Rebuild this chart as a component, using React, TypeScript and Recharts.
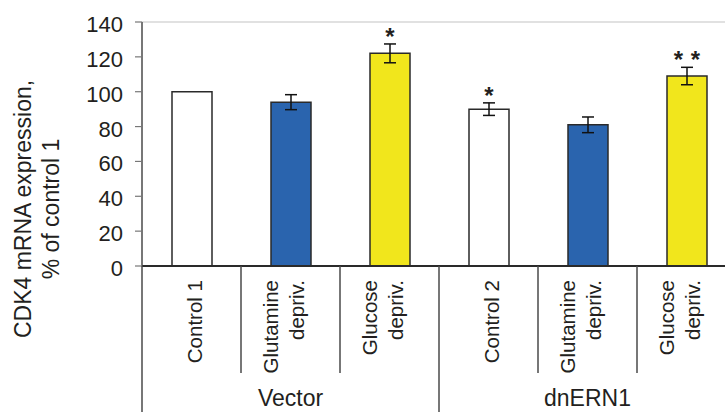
import { BarChart, Bar, XAxis, YAxis, Cell, ErrorBar, LabelList, ReferenceLine } from 'recharts'

const CATEGORIES = ['Control 1', 'Glutamine\ndepriv.', 'Glucose\ndepriv.', 'Control 2', 'Glutamine\ndepriv.', 'Glucose\ndepriv.']
const GROUPS = ['Vector', 'dnERN1']
const VALUES = [100, 94, 122, 90, 81, 109]
const ERRORS = [0, 4.3, 5.4, 3.6, 4.5, 5]
const MARKS = ['', '', '*', '*', '', '**']
const Y_TICKS = [0, 20, 40, 60, 80, 100, 120, 140]

const FILLS = ['#ffffff', '#2a64ae', '#f1e61c', '#ffffff', '#2a64ae', '#f1e61c']

const FONT = '"Liberation Sans", Arial, sans-serif'
const TEXT = '#231f20'
const LINE = '#4a4a4a'

const W = 725
const H = 412
const LEFT = 142
const TOP = 22
const X_AXIS_H = 146
const RIGHT = -11
const BAND = (W - LEFT - RIGHT) / CATEGORIES.length

const data = CATEGORIES.map((name, i) => ({
  name,
  idx: i,
  value: VALUES[i],
  err: ERRORS[i],
  sig: MARKS[i],
}))

function YTick({ x, y, payload }: any) {
  return (
    <text x={x} y={y + 10} textAnchor="end" fontSize={22} fontFamily={FONT} fill={TEXT}>
      {payload.value}
    </text>
  )
}

function XTick({ x, y, payload, index }: any) {
  const i = index ?? payload.index
  const lines = String(CATEGORIES[i]).split('\n')
  const left = x - BAND / 2
  const groupStart = i % 3 === 0
  const offsets = lines.length === 1 ? [10] : [-13, 13]
  return (
    <g>
      <line x1={left} y1={y} x2={left} y2={groupStart ? H : 373} stroke={LINE} strokeWidth={1.5} />
      {i === CATEGORIES.length - 1 && (
        <line x1={x + BAND / 2} y1={y} x2={x + BAND / 2} y2={H} stroke={LINE} strokeWidth={1.5} />
      )}
      {lines.map((l, k) => {
        const bx = x + offsets[k]
        const by = y + 14
        return (
          <text
            key={k}
            x={bx}
            y={by}
            transform={`rotate(-90, ${bx}, ${by})`}
            textAnchor="end"
            fontSize={20.5}
            fontFamily={FONT}
            fill={TEXT}
          >
            {l}
          </text>
        )
      })}
      {i % 3 === 1 && (
        <text x={x} y={H - 6} textAnchor="middle" fontSize={23} fontFamily={FONT} fill={TEXT}>
          {GROUPS[Math.floor(i / 3)]}
        </text>
      )}
    </g>
  )
}

function SigLabel(props: any) {
  const { x, y, width, height, index } = props
  const mark = MARKS[index]
  if (!mark) return null
  const cx = x + width / 2
  const errTop = y - (ERRORS[index] * height) / VALUES[index]
  const stars = mark.length === 1 ? [0] : [-8.5, 8.5]
  return (
    <g>
      {stars.map((d, k) => (
        <text
          key={k}
          x={cx + d}
          y={errTop + 1}
          textAnchor="middle"
          fontSize={24}
          fontWeight="bold"
          fontFamily={FONT}
          fill={TEXT}
        >
          *
        </text>
      ))}
    </g>
  )
}

function YTitle() {
  const cy = 209
  return (
    <g>
      <text
        x={31}
        y={cy}
        transform={`rotate(-90, 31, ${cy})`}
        textAnchor="middle"
        fontSize={23}
        fontFamily={FONT}
        fill={TEXT}
      >
        CDK4 mRNA expression,
      </text>
      <text
        x={59}
        y={cy}
        transform={`rotate(-90, 59, ${cy})`}
        textAnchor="middle"
        fontSize={23}
        fontFamily={FONT}
        fill={TEXT}
      >
        % of control 1
      </text>
    </g>
  )
}

export default function App() {
  return (
    <div style={{ position: 'absolute', left: 0, top: 0, width: W, height: H, background: '#fff' }}>
      <BarChart
        width={W}
        height={H}
        data={data}
        margin={{ top: TOP, right: RIGHT, bottom: 0, left: 0 }}
      >
        <ReferenceLine y={140} stroke="#c4c4c4" strokeWidth={1.2} />
        <XAxis
          dataKey="idx"
          height={X_AXIS_H}
          interval={0}
          tickSize={0}
          tickMargin={0}
          tickLine={false}
          axisLine={{ stroke: '#2a2a2a', strokeWidth: 2 }}
          tick={<XTick />}
        />
        <YAxis
          width={LEFT}
          domain={[0, 140]}
          ticks={Y_TICKS}
          tickSize={7}
          tickMargin={12}
          tickLine={{ stroke: '#777', strokeWidth: 1.2 }}
          axisLine={{ stroke: LINE, strokeWidth: 1.5 }}
          tick={<YTick />}
          label={<YTitle />}
        />
        <Bar dataKey="value" barSize={40} stroke="#2a2a2a" strokeWidth={1.5} isAnimationActive={false}>
          {data.map((d, i) => (
            <Cell key={d.idx} fill={FILLS[i]} />
          ))}
          <ErrorBar dataKey="err" width={6} stroke="#111" strokeWidth={1.5} />
          <LabelList dataKey="sig" content={<SigLabel />} />
        </Bar>
      </BarChart>
    </div>
  )
}
